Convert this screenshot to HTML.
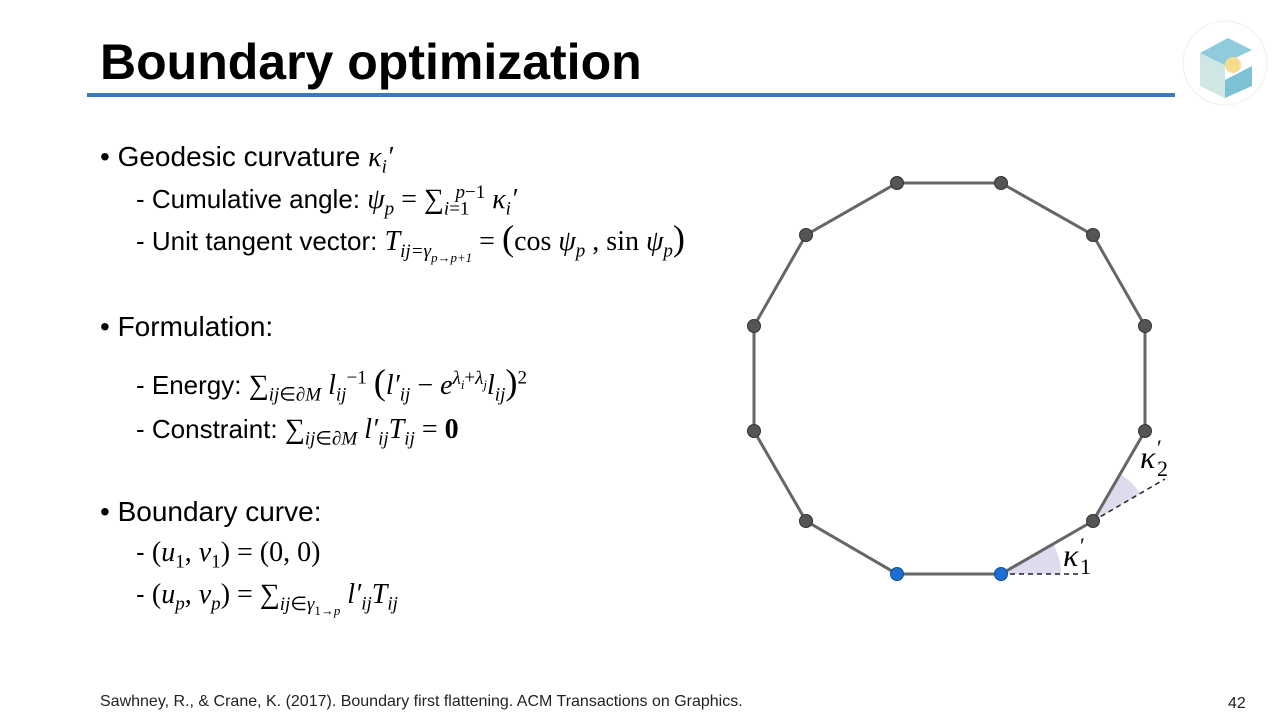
<!DOCTYPE html>
<html><head><meta charset="utf-8"><style>
body{margin:0;width:1280px;height:719px;background:#fff;position:relative;overflow:hidden;font-family:"Liberation Sans",sans-serif;color:#000}
.a{position:absolute;white-space:nowrap;line-height:34px}
.m{font-family:"Liberation Serif",serif;font-size:28px}
.i{font-style:italic}
sub,sup{font-size:68%;line-height:0}
.b{font-size:28px}
.s{font-size:26px}
.S{font-size:130%;line-height:0}
</style></head><body>
<div class="a" style="left:100px;top:33px;font-size:50px;font-weight:bold;line-height:58px">Boundary optimization</div>
<div class="a" style="left:87px;top:93px;width:1088px;height:4px;background:#3a78c3"></div>
<svg class="a" style="left:1180px;top:18px" width="90" height="90" viewBox="0 0 90 90">
<circle cx="45" cy="45" r="42" fill="#fff" stroke="#eee"/>
<polygon points="20,35 48,20 72,32 45,45 45,62 30,55 30,40" fill="#8fcbdc"/>
<polygon points="20,35 45,47 45,80 20,68" fill="#cfe6e4"/>
<polygon points="45,62 72,48 72,68 45,80" fill="#7cc1d6"/>
<circle cx="53" cy="47" r="8" fill="#f6dc8f"/>
</svg>
<div class="a b" style="left:100px;top:140px">• Geodesic curvature <span class="m i">κ<sub>i</sub>′</span></div>
<div class="a s" style="left:136px;top:182px">- Cumulative angle: <span class="m"><i>ψ<sub>p</sub></i> = ∑<sub><i>i</i>=1</sub><sup style="margin-left:-14px"><i>p</i>−1</sup> <i>κ<sub>i</sub>′</i></span></div>
<div class="a s" style="left:136px;top:224px">- Unit tangent vector: <span class="m"><i>T<sub>ij=γ<sub>p→p+1</sub></sub></i> = <span class="S">(</span>cos <i>ψ<sub>p</sub></i> , sin <i>ψ<sub>p</sub></i><span class="S">)</span></span></div>
<div class="a b" style="left:100px;top:310px">• Formulation:</div>
<div class="a s" style="left:136px;top:368px">- Energy: <span class="m">∑<sub><i>ij</i>∈∂<i>M</i></sub> <i>l<sub>ij</sub></i><sup>−1</sup> <span class="S">(</span><i>l′<sub>ij</sub></i> − <i>e</i><sup><i>λ<sub>i</sub></i>+<i>λ<sub>j</sub></i></sup><i>l<sub>ij</sub></i><span class="S">)</span><sup>2</sup></span></div>
<div class="a s" style="left:136px;top:412px">- Constraint: <span class="m">∑<sub><i>ij</i>∈∂<i>M</i></sub> <i>l′<sub>ij</sub>T<sub>ij</sub></i> = <b>0</b></span></div>
<div class="a b" style="left:100px;top:495px">• Boundary curve:</div>
<div class="a s" style="left:136px;top:535px">- <span class="m">(<i>u</i><sub>1</sub>, <i>v</i><sub>1</sub>) = (0, 0)</span></div>
<div class="a s" style="left:136px;top:577px">- <span class="m">(<i>u<sub>p</sub></i>, <i>v<sub>p</sub></i>) = ∑<sub><i>ij</i>∈<i>γ</i><sub>1→<i>p</i></sub></sub> <i>l′<sub>ij</sub>T<sub>ij</sub></i></span></div>
<div class="a" style="left:100px;top:685px;font-size:16px;color:#222">Sawhney, R., &amp; Crane, K. (2017). Boundary first flattening. ACM Transactions on Graphics.</div>
<div class="a" style="left:1228px;top:687px;font-size:16px;color:#222">42</div>
<svg class="a" style="left:0;top:0" width="1280" height="719">
<path d="M1001,574 L1061,574 A60,60 0 0 0 1053,544 Z" fill="#dcdcee"/>
<path d="M1093,521 L1140,494 A54,54 0 0 0 1120,474 Z" fill="#dcdcee"/>
<line x1="1001" y1="574" x2="1078" y2="574" stroke="#222" stroke-width="1.5" stroke-dasharray="5,4"/>
<line x1="1093" y1="521" x2="1165" y2="479" stroke="#222" stroke-width="1.5" stroke-dasharray="5,4"/>
<polygon points="897,183 1001,183 1093,235 1145,326 1145,431 1093,521 1001,574 897,574 806,521 754,431 754,326 806,235" fill="none" stroke="#666" stroke-width="3"/>
<g fill="#555" stroke="#333" stroke-width="1">
<circle cx="897" cy="183" r="6.5"/><circle cx="1001" cy="183" r="6.5"/><circle cx="1093" cy="235" r="6.5"/><circle cx="1145" cy="326" r="6.5"/><circle cx="1145" cy="431" r="6.5"/><circle cx="1093" cy="521" r="6.5"/><circle cx="806" cy="521" r="6.5"/><circle cx="754" cy="431" r="6.5"/><circle cx="754" cy="326" r="6.5"/><circle cx="806" cy="235" r="6.5"/>
</g>
<circle cx="897" cy="574" r="6.5" fill="#1a6fd0" stroke="#124d90"/>
<circle cx="1001" cy="574" r="6.5" fill="#1a6fd0" stroke="#124d90"/>
<text x="1063" y="566" font-family="Liberation Serif" font-style="italic" font-size="32">κ</text>
<text x="1080" y="553" font-family="Liberation Serif" font-size="22">′</text>
<text x="1080" y="574" font-family="Liberation Serif" font-size="22">1</text>
<text x="1140" y="468" font-family="Liberation Serif" font-style="italic" font-size="32">κ</text>
<text x="1157" y="455" font-family="Liberation Serif" font-size="22">′</text>
<text x="1157" y="476" font-family="Liberation Serif" font-size="22">2</text>
</svg>
</body></html>
